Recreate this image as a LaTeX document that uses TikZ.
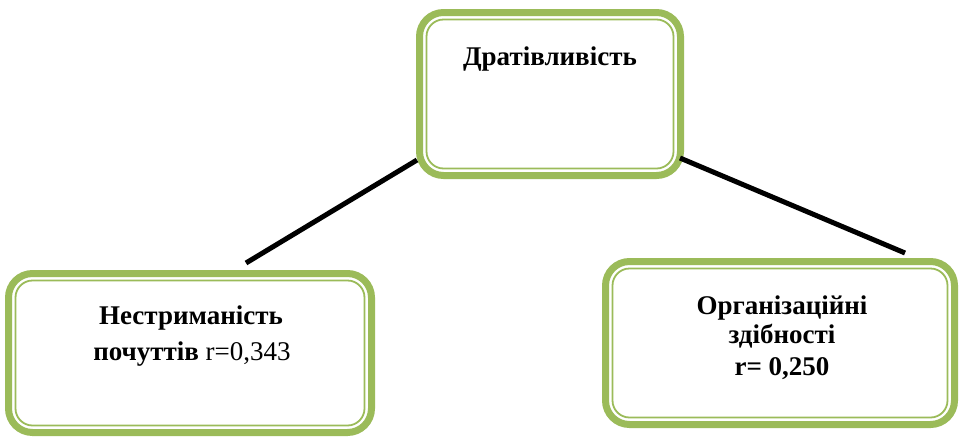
\documentclass[tikz,border=0pt]{standalone}
\usepackage{fontspec}
\setmainfont{Liberation Serif}
\definecolor{olivegreen}{HTML}{9BBB59}
\begin{document}
\begin{tikzpicture}[x=1pt,y=-1pt,
  box/.style={draw=olivegreen,line width=7pt,rounded corners=24pt,fill=white,inner sep=0pt},
  innerbox/.style={draw=olivegreen,line width=1.8pt,rounded corners=17pt},
  link/.style={draw=black,line width=5pt},
  txt/.style={font=\fontsize{27}{30}\selectfont\bfseries,align=center,inner sep=0pt}]
\useasboundingbox (0,0) rectangle (961,437);
% boxes
\node[box,minimum width=261pt,minimum height=163pt] (top) at (550,94) {};
\node[box,minimum width=363pt,minimum height=159pt] (left) at (190,353) {};
\node[box,minimum width=349pt,minimum height=163pt] (right) at (780,343) {};
\path[innerbox] (419.5+7,12.5+7) rectangle (680.5-7,175.5-7);
\path[innerbox] (8.5+7,273.5+7) rectangle (371.5-7,432.5-7);
\path[innerbox] (605.5+7,261.5+7) rectangle (954.5-7,424.5-7);
% texts
\node[txt,anchor=base] (ttop) at (550,65) {Дратівливість};
\node[txt,anchor=base] (tleft1) at (191,324) {Нестриманість};
\node[txt,anchor=base] (tleft2) at (192,360) {почуттів \mdseries r=0,343};
\node[txt,anchor=base] (tright1) at (782,314) {Організаційні};
\node[txt,anchor=base] (tright2) at (782,343) {здібності};
\node[txt,anchor=base] (tright3) at (782,375) {r= 0,250};
% connectors
\coordinate (l1) at (417,160);
\coordinate (l2) at (246,263);
\coordinate (r1) at (680,158);
\coordinate (r2) at (905,253);
\draw[link] (l1) -- (l2);
\draw[link] (r1) -- (r2);
\end{tikzpicture}
\end{document}
